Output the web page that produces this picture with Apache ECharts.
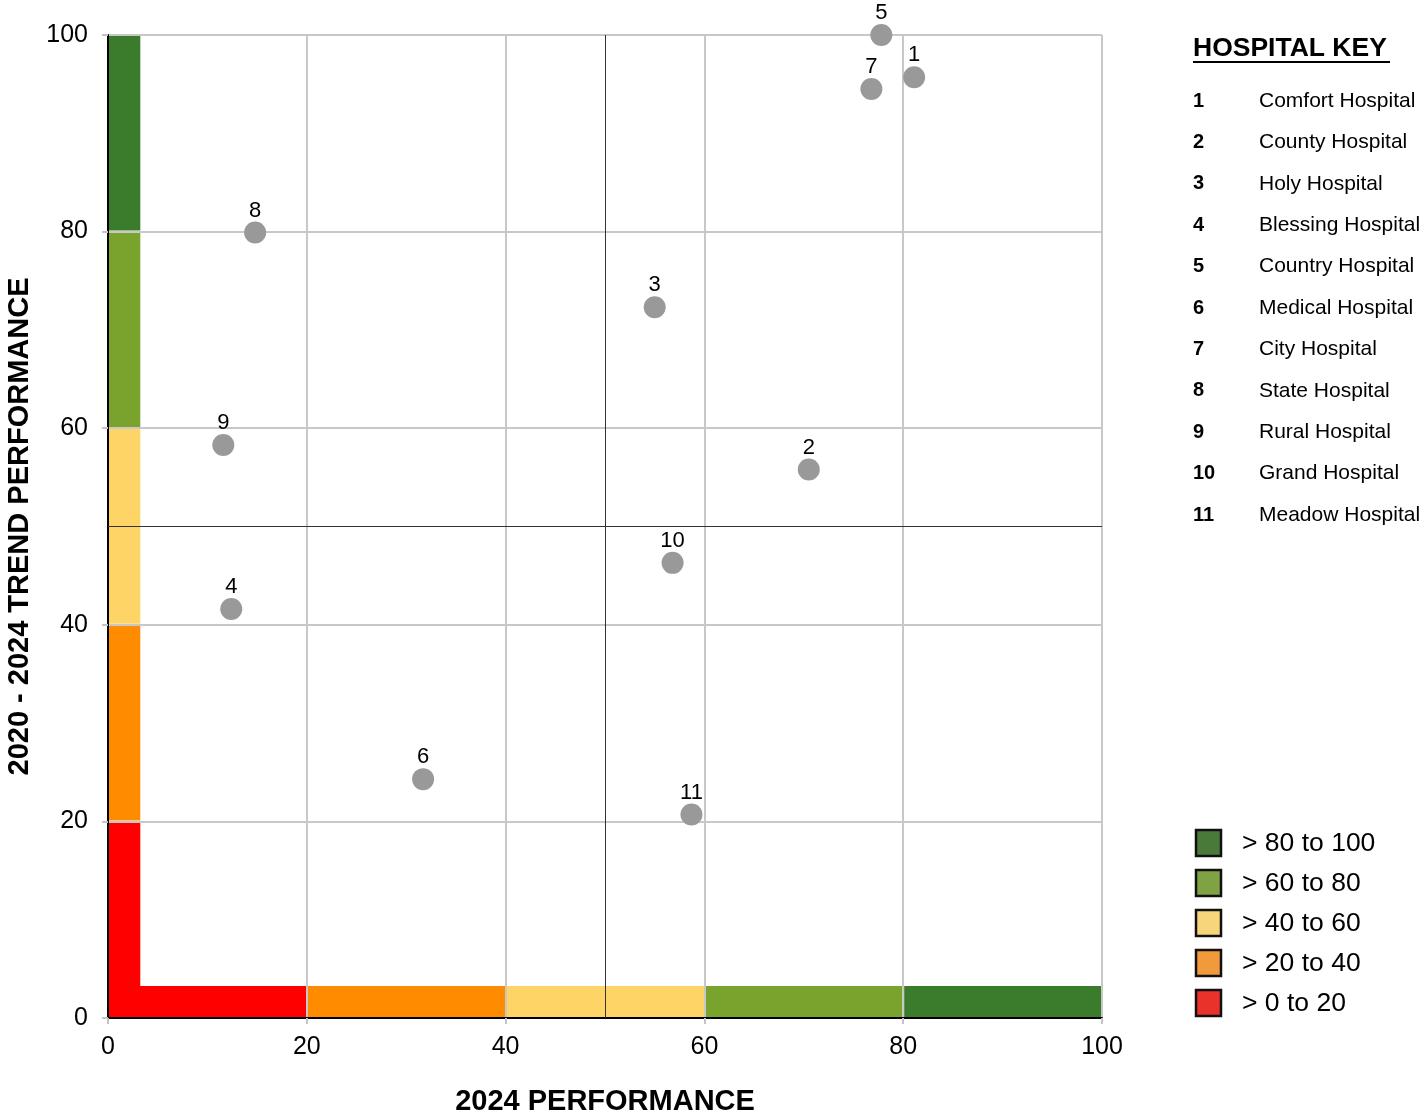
<!DOCTYPE html>
<html>
<head>
<meta charset="utf-8">
<script src="https://cdn.jsdelivr.net/npm/echarts@6/dist/echarts.min.js"></script>
<style>
html,body{margin:0;padding:0;background:#fff;overflow:hidden;}
#chart{width:1424px;height:1114px;}
</style>
</head>
<body>
<div id="chart"></div>
<script>
// ---- data ----
const hospitalIds = [1, 2, 3, 4, 5, 6, 7, 8, 9, 10, 11];
const hospitalNames = ['Comfort Hospital', 'County Hospital', 'Holy Hospital', 'Blessing Hospital', 'Country Hospital', 'Medical Hospital', 'City Hospital', 'State Hospital', 'Rural Hospital', 'Grand Hospital', 'Meadow Hospital'];
const performance2024 = [81.1, 70.5, 55.0, 12.4, 77.8, 31.7, 76.8, 14.8, 11.6, 56.8, 58.7];
const trend2020to2024 = [95.7, 55.8, 72.3, 41.6, 100.0, 24.3, 94.5, 79.9, 58.3, 46.3, 20.7];
const tickValues = [0, 20, 40, 60, 80, 100];
const bandEdges = [0, 20, 40, 60, 80, 100];
const bandColors = ['#ff0000', '#ff8c00', '#ffd466', '#7aa32e', '#3a7b2c'];
const bandThickness = 3.25;
const bandLegendLabels = ['> 80 to 100', '> 60 to 80', '> 40 to 60', '> 20 to 40', '> 0 to 20'];
const bandLegendColors = ['#4a7a3a', '#7fa244', '#f7d57a', '#f09a3c', '#e8322a'];
const centerValue = 50;

const FONT = '"Liberation Sans", Arial, sans-serif';

// bands: [x0, x1, y0, y1, color]
const bandRects = [];
for (let i = 0; i < bandColors.length; i++) {
  bandRects.push([0, bandThickness, bandEdges[i], bandEdges[i + 1], bandColors[i]]);
  bandRects.push([bandEdges[i], bandEdges[i + 1], 0, bandThickness, bandColors[i]]);
}

const points = hospitalIds.map((id, i) => ({
  value: [performance2024[i], trend2020to2024[i]],
  name: String(id)
}));

const chart = echarts.init(document.getElementById('chart'), null, {renderer: 'canvas'});

const graphics = [];
graphics.push({
  type: 'text', left: 1193, top: 35,
  style: {text: 'HOSPITAL KEY', font: 'bold 26.5px ' + FONT, fill: '#000'}
});
graphics.push({
  type: 'rect', left: 1193, top: 61,
  shape: {width: 197, height: 2},
  style: {fill: '#000'}
});
hospitalIds.forEach((id, i) => {
  const cy = 101 + i * 41.4;
  graphics.push({
    type: 'text', x: 1193, y: cy,
    style: {text: String(id), font: 'bold 20px ' + FONT, fill: '#000', textVerticalAlign: 'middle'}
  });
  graphics.push({
    type: 'text', x: 1259, y: cy,
    style: {text: hospitalNames[i], font: '21px ' + FONT, fill: '#000', textVerticalAlign: 'middle'}
  });
});
bandLegendLabels.forEach((lab, i) => {
  const cy = 843 + i * 40;
  graphics.push({
    type: 'rect', x: 1196, y: cy - 13,
    shape: {width: 25, height: 26},
    style: {fill: bandLegendColors[i], stroke: '#111', lineWidth: 2.5}
  });
  graphics.push({
    type: 'text', x: 1242, y: cy + 1,
    style: {text: lab, font: '26.5px ' + FONT, fill: '#000', textVerticalAlign: 'middle'}
  });
});

const axisCommon = {
  type: 'value', min: 0, max: 100, interval: 20,
  z: 1,
  axisLine: {show: true, onZero: false, lineStyle: {color: '#000', width: 2}},
  axisTick: {show: true, length: 6, lineStyle: {color: '#c4c4c4', width: 2}},
  splitLine: {show: true, lineStyle: {color: '#c8c8c8', width: 2}},
  axisLabel: {fontFamily: FONT, fontSize: 25, color: '#000'},
  nameLocation: 'middle',
  nameTextStyle: {fontFamily: FONT, fontSize: 29, fontWeight: 'bold', color: '#000'}
};

chart.setOption({
  animation: false,
  backgroundColor: '#fff',
  grid: {left: 108, top: 35, right: 322, bottom: 96, containLabel: false, outerBoundsMode: 'none'},
  xAxis: Object.assign({}, axisCommon, {
    name: '2024 PERFORMANCE', nameGap: 69,
    axisLabel: Object.assign({}, axisCommon.axisLabel, {margin: 17})
  }),
  yAxis: Object.assign({}, axisCommon, {
    name: '2020 - 2024 TREND PERFORMANCE', nameGap: 74,
    axisLabel: Object.assign({}, axisCommon.axisLabel, {margin: 20})
  }),
  graphic: graphics,
  series: [
    {
      type: 'custom',
      z: 0,
      silent: true,
      data: bandRects,
      renderItem: function (params, api) {
        const p0 = api.coord([api.value(0), api.value(3)]);
        const p1 = api.coord([api.value(1), api.value(2)]);
        return {
          type: 'rect',
          shape: {x: p0[0] + 1, y: p0[1], width: p1[0] - p0[0] - 1, height: p1[1] - p0[1] - 1},
          style: {fill: bandRects[params.dataIndex][4]}
        };
      },
      encode: {x: [0, 1], y: [2, 3]}
    },
    {
      type: 'scatter',
      z: 3,
      data: points,
      symbol: 'circle',
      symbolSize: 22,
      itemStyle: {color: '#999999', opacity: 1},
      label: {
        show: true, position: 'top', distance: 0,
        formatter: p => p.name,
        fontFamily: FONT, fontSize: 22, color: '#000'
      },
      markLine: {
        silent: true,
        symbol: 'none',
        label: {show: false},
        lineStyle: {color: '#333', width: 1, type: 'solid'},
        data: [{xAxis: centerValue}, {yAxis: centerValue}]
      }
    }
  ]
});
</script>
</body>
</html>
